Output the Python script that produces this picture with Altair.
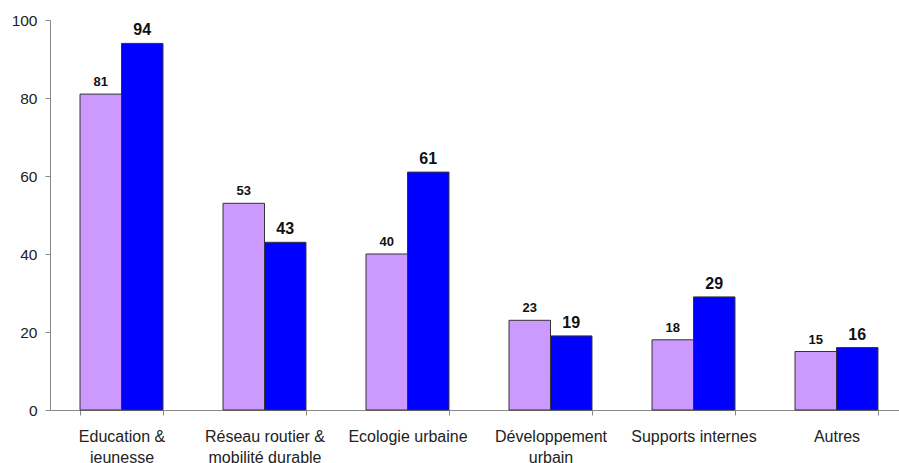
import altair as alt
import pandas as pd

categories = ["Education &\njeunesse", "Réseau routier &\nmobilité durable", "Ecologie urbaine",
              "Développement\nurbain", "Supports internes", "Autres"]
series_names = ["Série 1", "Série 2"]
values_1 = [81, 53, 40, 23, 18, 15]
values_2 = [94, 43, 61, 19, 29, 16]
y_ticks = [0, 20, 40, 60, 80, 100]
colors = ["#CC99FF", "#0000FF"]
label_sizes = [13, 16]

rows = []
for c, a, b in zip(categories, values_1, values_2):
    rows.append({"cat": c, "serie": series_names[0], "val": a})
    rows.append({"cat": c, "serie": series_names[1], "val": b})
df = pd.DataFrame(rows)

FONT = "Liberation Sans"

x = alt.X("cat:N", sort=categories, title=None,
          scale=alt.Scale(range=[0, 858], paddingInner=0.42, paddingOuter=0.21),
          axis=alt.Axis(domainColor="#888888", tickColor="#888888", tickBand="extent",
                        tickSize=5, labelFontSize=16, labelFont=FONT, labelColor="#222222",
                        labelPadding=13, labelLineHeight=21, labelAngle=0,
                        labelExpr="split(datum.label, '\\n')"))
y = alt.Y("val:Q", title=None,
          scale=alt.Scale(domain=[0, 100], nice=False),
          axis=alt.Axis(values=y_ticks, grid=False, domainColor="#888888", tickColor="#888888",
                        tickSize=5, labelFontSize=15.5, labelFont=FONT, labelColor="#222222",
                        labelPadding=8))
xo = alt.XOffset("serie:N", sort=series_names, scale=alt.Scale(domain=series_names))

base = alt.Chart(df)

bars = base.mark_bar(stroke="#333333", strokeWidth=1).encode(
    x=x, y=y, xOffset=xo,
    color=alt.Color("serie:N", scale=alt.Scale(domain=series_names, range=colors), legend=None),
)

labels = base.mark_text(baseline="bottom", align="center", dy=-5, fontWeight="bold",
                        font=FONT, color="#111111").encode(
    x=x, y=y, xOffset=xo,
    text=alt.Text("val:Q"),
    size=alt.Size("serie:N", scale=alt.Scale(domain=series_names, range=label_sizes), legend=None),
)

chart = (bars + labels).properties(
    width=849, height=390,
    autosize=alt.AutoSizeParams(type="none"),
    padding={"left": 50, "top": 20, "right": 0, "bottom": 53},
    background="white",
).configure_view(stroke=None)

chart.save("out.html", embed_options={"renderer": "svg", "actions": False})
